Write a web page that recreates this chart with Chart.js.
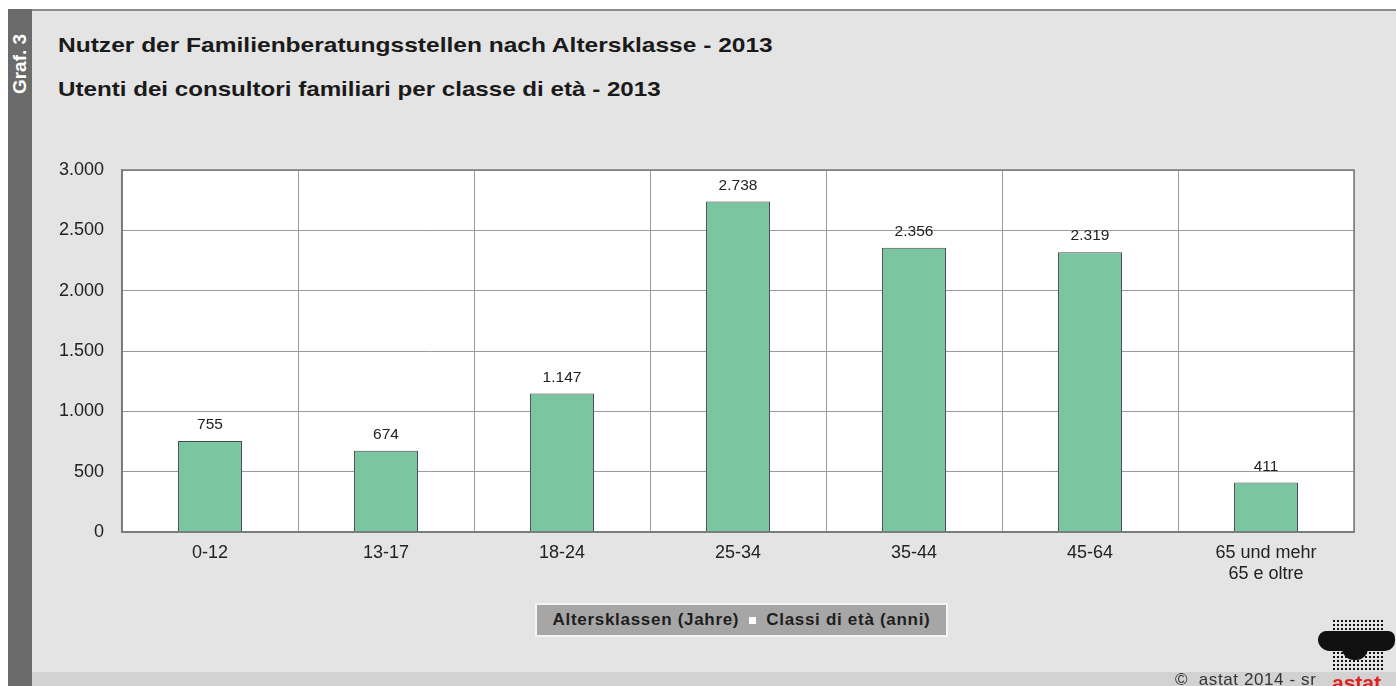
<!DOCTYPE html>
<html>
<head>
<meta charset="utf-8">
<script src="https://cdn.jsdelivr.net/npm/chart.js@4.4.1/dist/chart.umd.min.js"></script>
<style>
  html, body { margin: 0; padding: 0; background: #fff; }
  body { width: 1396px; height: 686px; position: relative; overflow: hidden; font-family: "Liberation Sans", Arial, sans-serif; }
  #frame { position: absolute; left: 8px; top: 9px; width: 1388px; height: 677px; background: #e4e4e4; border-top: 2px solid #8c8c8c; box-sizing: border-box; }
  #strip { position: absolute; left: 8px; top: 9px; width: 24px; height: 677px; background: #6b6b6b; }
  #graf { position: absolute; left: 20px; top: 64px; transform: translate(-50%, -50%) rotate(-90deg); color: #fff; font-weight: bold; font-size: 19px; white-space: nowrap; }
  .title { position: absolute; left: 58px; font-weight: bold; font-size: 21px; color: #1a1a1a; white-space: nowrap; transform-origin: 0 50%; }
  #t1 { top: 33px; transform: scaleX(1.168); }
  #t2 { top: 77px; transform: scaleX(1.15); }
  #chart { position: absolute; left: 0; top: 0; }
  #legend { position: absolute; left: 535px; top: 603px; width: 413px; height: 34px; box-sizing: border-box; background: #a6a6a6; border: 2px solid #f4f4f4; color: #1e1e1e; font-weight: bold; font-size: 17px; letter-spacing: 0.7px; display: flex; align-items: center; justify-content: center; white-space: nowrap; }
  #legend .sq { display: inline-block; width: 7px; height: 7px; background: #fff; margin: 0 10px; }
  #band { position: absolute; left: 32px; top: 672px; width: 1364px; height: 14px; background: #d2d2d2; }
  #copy { position: absolute; left: 1175px; top: 670px; font-size: 17px; letter-spacing: 0.6px; color: #333; white-space: nowrap; }
  #logo { position: absolute; left: 1332px; top: 671px; font-size: 21px; font-weight: bold; color: #e02020; }
  #dots { position: absolute; left: 1332px; top: 619px; width: 52px; height: 53px; background-image: radial-gradient(circle, #111 1.1px, transparent 1.4px); background-size: 4px 4px; }
  #blob { position: absolute; left: 1318px; top: 631px; width: 77px; height: 20px; background: #111; border-radius: 10px 8px 12px 14px; }
  #blob2 { position: absolute; left: 1342px; top: 646px; width: 26px; height: 14px; background: #111; border-radius: 0 0 12px 12px; }
</style>
</head>
<body>
<div id="frame"></div>
<div id="strip"></div>
<div id="graf">Graf. 3</div>
<div class="title" id="t1">Nutzer der Familienberatungsstellen nach Altersklasse - 2013</div>
<div class="title" id="t2">Utenti dei consultori familiari per classe di età - 2013</div>
<canvas id="chart" width="1396" height="686"></canvas>
<div id="legend">Altersklassen (Jahre)<span class="sq"></span>Classi di età (anni)</div>
<div id="band"></div>
<div id="dots"></div>
<div id="blob"></div>
<div id="blob2"></div>
<div id="copy">©&nbsp; astat 2014 - sr</div>
<div id="logo">astat</div>
<script>
// Altersklassen / classi di età
const categories = [
  "0-12", "13-17", "18-24", "25-34", "35-44", "45-64",
  ["65 und mehr", "65 e oltre"]
];
const users = [755, 674, 1147, 2738, 2356, 2319, 411];
const yTicks = [0, 500, 1000, 1500, 2000, 2500, 3000];

// 1234 -> "1.234"
function fmt(n) {
  return String(n).replace(/\B(?=(\d{3})+(?!\d))/g, ".");
}

const plotFrame = {
  id: "plotFrame",
  beforeDraw(chart) {
    const { ctx, chartArea: a } = chart;
    ctx.save();
    ctx.fillStyle = "#ffffff";
    ctx.fillRect(a.left, a.top, a.right - a.left, a.bottom - a.top);
    ctx.restore();
  },
  afterDraw(chart) {
    const { ctx, chartArea: a } = chart;
    ctx.save();
    ctx.strokeStyle = "#7a7a7a";
    ctx.lineWidth = 1.5;
    ctx.strokeRect(a.left, a.top, a.right - a.left, a.bottom - a.top);
    ctx.restore();
  }
};

const valueLabels = {
  id: "valueLabels",
  afterDatasetsDraw(chart) {
    const { ctx } = chart;
    const meta = chart.getDatasetMeta(0);
    ctx.save();
    ctx.font = "15.5px 'Liberation Sans', Arial, sans-serif";
    ctx.fillStyle = "#222";
    ctx.textAlign = "center";
    ctx.textBaseline = "middle";
    meta.data.forEach((bar, i) => {
      ctx.fillText(fmt(users[i]), bar.x, bar.y - 16);
    });
    ctx.restore();
  }
};

new Chart(document.getElementById("chart"), {
  type: "bar",
  data: {
    labels: categories,
    datasets: [{
      data: users,
      backgroundColor: "#7bc5a0",
      borderColor: "#4a4a4a",
      borderWidth: 1,
      barPercentage: 0.364,
      categoryPercentage: 1
    }]
  },
  options: {
    responsive: false,
    animation: false,
    layout: { padding: { left: 0, top: 170, right: 42, bottom: 0 } },
    plugins: {
      legend: { display: false },
      tooltip: { enabled: false }
    },
    scales: {
      x: {
        afterFit(scale) { scale.height = 154; },
        grid: { color: "#9a9a9a", lineWidth: 1, drawTicks: false, offset: true },
        border: { color: "#7a7a7a", width: 1.5 },
        ticks: {
          color: "#222",
          padding: 11,
          maxRotation: 0,
          font: { family: "'Liberation Sans', Arial, sans-serif", size: 18, lineHeight: 1.15 }
        }
      },
      y: {
        min: 0,
        max: 3000,
        afterFit(scale) { scale.width = 122; },
        afterBuildTicks(scale) { scale.ticks = yTicks.map((v) => ({ value: v })); },
        grid: { color: "#9a9a9a", lineWidth: 1, drawTicks: false },
        border: { color: "#7a7a7a", width: 1.5 },
        ticks: {
          color: "#222",
          padding: 18,
          callback: (v) => fmt(v),
          font: { family: "'Liberation Sans', Arial, sans-serif", size: 18 }
        }
      }
    }
  },
  plugins: [plotFrame, valueLabels]
});
</script>
</body>
</html>
